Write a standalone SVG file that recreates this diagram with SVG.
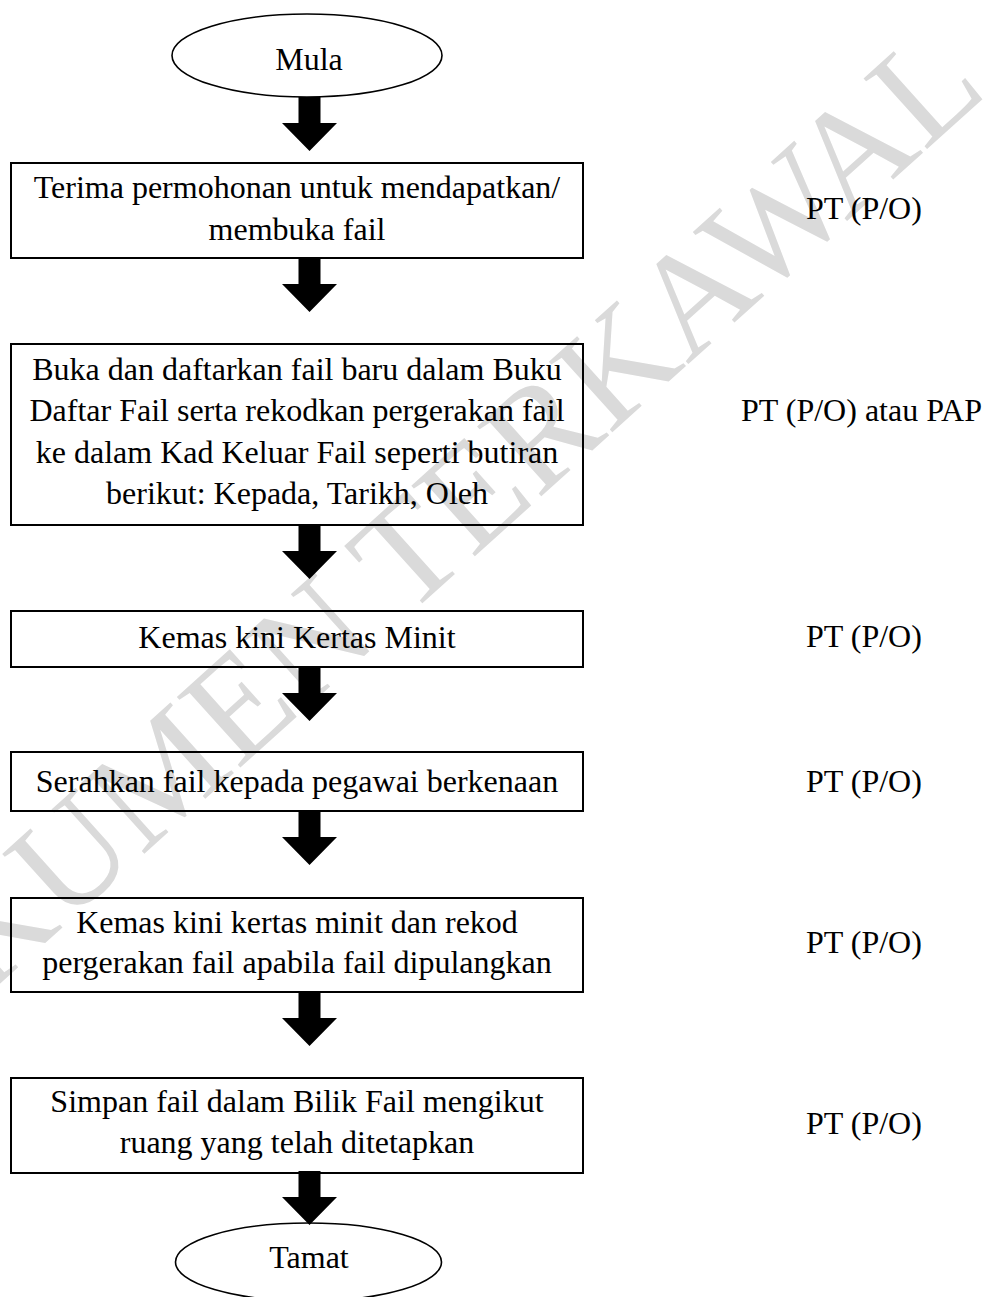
<svg xmlns="http://www.w3.org/2000/svg" xmlns:xlink="http://www.w3.org/1999/xlink" width="988" height="1297" viewBox="0 0 988 1297">
<style>
  .box { fill: none; stroke: #000; stroke-width: 2; }
  .term { fill: none; stroke: #000; stroke-width: 1.6; }
  .t { font-family: "Liberation Serif", "Times New Roman", serif; font-size: 32px; fill: #000; }
  .c { text-anchor: middle; }
  .wm { font-family: "Liberation Serif", "Times New Roman", serif; font-size: 145px; fill: #dadada; }
  .arr { fill: #000; stroke: none; }
</style>
<defs>
  <path id="arrow" d="M298.5 0 H320.5 V26 H337 L309.5 54 L282 26 H298.5 Z"/>
</defs>
<rect width="988" height="1297" fill="#fff"/>
<g id="watermark">
  <text class="wm" transform="translate(310,640) rotate(-42)" x="-689" y="48">DOKUMEN TERKAWAL</text>
</g>
<g id="connectors" class="arr">
  <use xlink:href="#arrow" transform="translate(0,97)"/>
  <use xlink:href="#arrow" transform="translate(0,258)"/>
  <use xlink:href="#arrow" transform="translate(0,525)"/>
  <use xlink:href="#arrow" transform="translate(0,667)"/>
  <use xlink:href="#arrow" transform="translate(0,811)"/>
  <use xlink:href="#arrow" transform="translate(0,992)"/>
  <use xlink:href="#arrow" transform="translate(0,1171)"/>
</g>
<g id="mula">
  <ellipse class="term" cx="307" cy="55.5" rx="135" ry="41.5"/>
  <text class="t c" x="309" y="70">Mula</text>
</g>
<g id="step1">
  <rect class="box" x="11" y="163" width="572" height="95"/>
  <text class="t c" x="297" y="198">Terima permohonan untuk mendapatkan/</text>
  <text class="t c" x="297" y="240">membuka fail</text>
</g>
<g id="step2">
  <rect class="box" x="11" y="344" width="572" height="181"/>
  <text class="t c" x="297" y="380">Buka dan daftarkan fail baru dalam Buku</text>
  <text class="t c" x="297" y="421">Daftar Fail serta rekodkan pergerakan fail</text>
  <text class="t c" x="297" y="463">ke dalam Kad Keluar Fail seperti butiran</text>
  <text class="t c" x="297" y="504">berikut: Kepada, Tarikh, Oleh</text>
</g>
<g id="step3">
  <rect class="box" x="11" y="611" width="572" height="56"/>
  <text class="t c" x="297" y="648">Kemas kini Kertas Minit</text>
</g>
<g id="step4">
  <rect class="box" x="11" y="752" width="572" height="59"/>
  <text class="t c" x="297" y="792">Serahkan fail kepada pegawai berkenaan</text>
</g>
<g id="step5">
  <rect class="box" x="11" y="898" width="572" height="94"/>
  <text class="t c" x="297" y="933">Kemas kini kertas minit dan rekod</text>
  <text class="t c" x="297" y="973">pergerakan fail apabila fail dipulangkan</text>
</g>
<g id="step6">
  <rect class="box" x="11" y="1078" width="572" height="95"/>
  <text class="t c" x="297" y="1112">Simpan fail dalam Bilik Fail mengikut</text>
  <text class="t c" x="297" y="1153">ruang yang telah ditetapkan</text>
</g>
<g id="tamat">
  <ellipse class="term" cx="308.5" cy="1262" rx="133" ry="39"/>
  <text class="t c" x="309" y="1268">Tamat</text>
</g>
<g id="labels">
  <text class="t" x="806" y="219">PT (P/O)</text>
  <text class="t" x="741" y="421">PT (P/O) atau PAP</text>
  <text class="t" x="806" y="647">PT (P/O)</text>
  <text class="t" x="806" y="792">PT (P/O)</text>
  <text class="t" x="806" y="953">PT (P/O)</text>
  <text class="t" x="806" y="1134">PT (P/O)</text>
</g>
</svg>
